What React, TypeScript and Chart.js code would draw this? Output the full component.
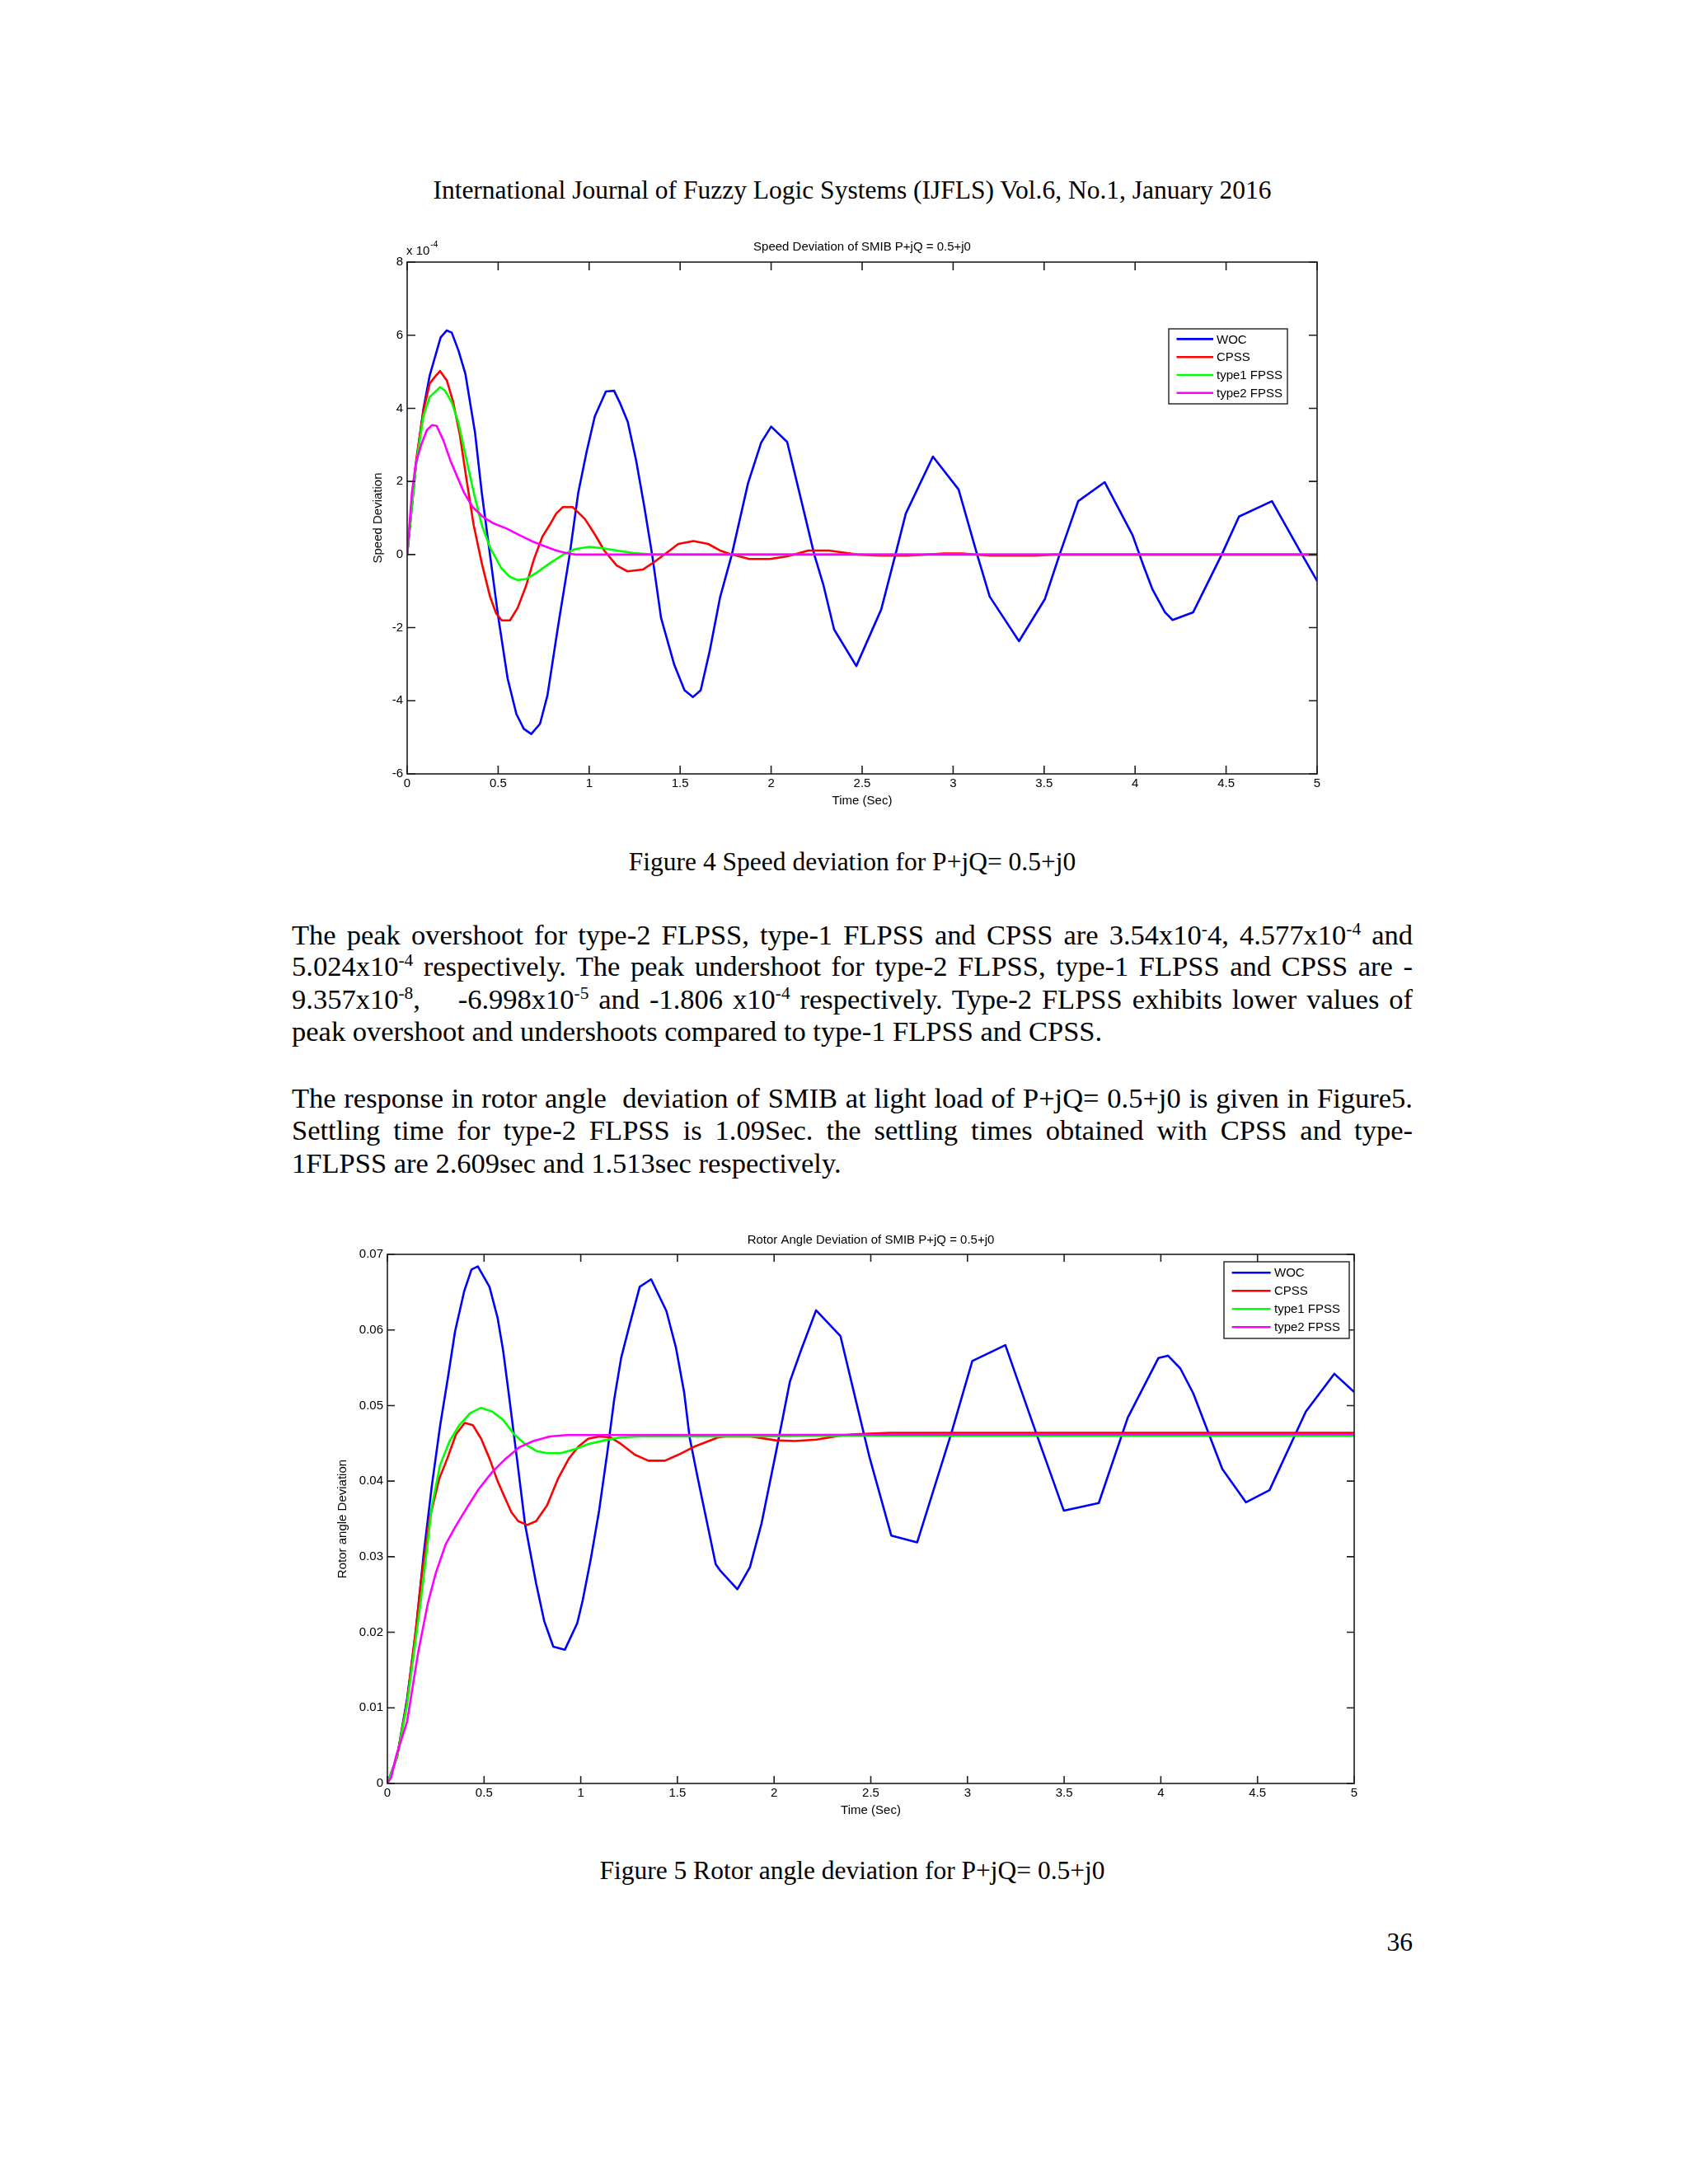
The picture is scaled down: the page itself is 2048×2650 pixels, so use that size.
import React, { useEffect, useRef } from 'react';
import { Chart, registerables } from 'chart.js';

Chart.register(...registerables);
Chart.defaults.font.family = '"Liberation Sans", Arial, Helvetica, sans-serif';
Chart.defaults.color = '#000';

// ---------- shared ----------
const seriesLabels = ['WOC', 'CPSS', 'type1 FPSS', 'type2 FPSS'];
const seriesColors = ['#0000ff', '#ff0000', '#00ff00', '#ff00ff'];

const timeTicks = [0, 0.5, 1, 1.5, 2, 2.5, 3, 3.5, 4, 4.5, 5];
const timeTickLabels = ['0', '0.5', '1', '1.5', '2', '2.5', '3', '3.5', '4', '4.5', '5'];

// ---------- Figure 4: speed deviation (units of 1e-4) ----------
const speedTicks = [-6, -4, -2, 0, 2, 4, 6, 8];
const speedTickLabels = ['-6', '-4', '-2', '0', '2', '4', '6', '8'];

const speedWocT = [0, 0.048, 0.09, 0.124, 0.184, 0.218, 0.245, 0.282, 0.32, 0.373, 0.41, 0.456, 0.5, 0.552, 0.6, 0.641, 0.682, 0.73, 0.771, 0.828, 0.893, 0.94, 0.986, 1.031, 1.092, 1.137, 1.168, 1.212, 1.258, 1.303, 1.346, 1.395, 1.468, 1.524, 1.57, 1.613, 1.662, 1.719, 1.784, 1.873, 1.945, 2.0, 2.088, 2.156, 2.237, 2.286, 2.346, 2.468, 2.605, 2.683, 2.74, 2.889, 3.03, 3.132, 3.201, 3.362, 3.504, 3.585, 3.687, 3.833, 3.986, 4.047, 4.096, 4.164, 4.206, 4.319, 4.476, 4.571, 4.752, 4.917, 5.0];
const speedWocY = [0, 2.43, 4.0, 4.9, 5.94, 6.13, 6.07, 5.58, 4.94, 3.33, 1.69, -0.04, -1.69, -3.39, -4.36, -4.77, -4.91, -4.63, -3.85, -2.0, 0, 1.69, 2.81, 3.78, 4.46, 4.48, 4.16, 3.63, 2.58, 1.31, 0, -1.73, -3.02, -3.71, -3.9, -3.71, -2.65, -1.18, 0, 1.95, 3.06, 3.5, 3.08, 1.68, 0, -0.81, -2.05, -3.05, -1.5, 0, 1.12, 2.68, 1.78, 0, -1.15, -2.37, -1.22, 0, 1.46, 1.98, 0.53, -0.32, -0.96, -1.58, -1.79, -1.58, 0, 1.04, 1.46, 0, -0.72];

const speedCpssT = [0, 0.05, 0.09, 0.124, 0.154, 0.181, 0.218, 0.252, 0.29, 0.328, 0.366, 0.411, 0.456, 0.489, 0.52, 0.565, 0.607, 0.653, 0.698, 0.743, 0.781, 0.819, 0.856, 0.909, 0.977, 1.03, 1.083, 1.151, 1.211, 1.295, 1.362, 1.453, 1.49, 1.573, 1.654, 1.719, 1.784, 1.88, 1.994, 2.09, 2.205, 2.318, 2.415, 2.477, 2.6, 2.75, 2.95, 3.05, 3.2, 3.45, 3.55, 5.0];
const speedCpssY = [0, 2.6, 3.95, 4.68, 4.87, 5.02, 4.76, 4.19, 3.26, 1.99, 0.79, -0.26, -1.16, -1.61, -1.8, -1.8, -1.46, -0.86, -0.11, 0.49, 0.79, 1.12, 1.3, 1.3, 0.97, 0.56, 0.11, -0.3, -0.46, -0.41, -0.19, 0.15, 0.29, 0.37, 0.29, 0.11, 0, -0.12, -0.12, -0.05, 0.11, 0.11, 0.04, 0, -0.03, -0.03, 0.03, 0.03, -0.03, -0.03, 0, 0];

const speedType1T = [0, 0.05, 0.09, 0.124, 0.181, 0.207, 0.245, 0.282, 0.32, 0.366, 0.411, 0.456, 0.517, 0.562, 0.607, 0.653, 0.713, 0.789, 0.864, 0.924, 1.0, 1.076, 1.166, 1.242, 1.302, 1.35, 5.0];
const speedType1Y = [0, 2.5, 3.8, 4.31, 4.58, 4.49, 4.16, 3.6, 2.73, 1.69, 0.79, 0.19, -0.37, -0.6, -0.7, -0.67, -0.49, -0.22, 0.02, 0.15, 0.21, 0.17, 0.1, 0.04, 0.02, 0, 0];

const speedType2T = [0, 0.026, 0.048, 0.079, 0.109, 0.136, 0.162, 0.2, 0.237, 0.275, 0.313, 0.358, 0.411, 0.471, 0.547, 0.622, 0.683, 0.743, 0.819, 0.872, 0.924, 5.0];
const speedType2Y = [0, 1.69, 2.51, 3.03, 3.41, 3.54, 3.52, 3.11, 2.58, 2.13, 1.69, 1.31, 1.05, 0.86, 0.71, 0.52, 0.37, 0.25, 0.11, 0.04, 0, 0];

// ---------- Figure 5: rotor angle deviation ----------
const rotorTicks = [0, 0.01, 0.02, 0.03, 0.04, 0.05, 0.06, 0.07];
const rotorTickLabels = ['0', '0.01', '0.02', '0.03', '0.04', '0.05', '0.06', '0.07'];

const rotorWocT = [0, 0.05, 0.102, 0.145, 0.187, 0.23, 0.272, 0.315, 0.35, 0.397, 0.435, 0.468, 0.528, 0.57, 0.599, 0.627, 0.67, 0.712, 0.769, 0.811, 0.858, 0.918, 0.982, 1.01, 1.052, 1.095, 1.138, 1.173, 1.209, 1.251, 1.305, 1.364, 1.443, 1.492, 1.535, 1.563, 1.606, 1.655, 1.698, 1.72, 1.81, 1.875, 1.935, 2.008, 2.082, 2.139, 2.217, 2.343, 2.416, 2.494, 2.606, 2.74, 2.916, 3.025, 3.196, 3.356, 3.498, 3.679, 3.829, 3.988, 4.037, 4.101, 4.168, 4.318, 4.44, 4.562, 4.75, 4.897, 5.0];
const rotorWocY = [0, 0.0035, 0.0112, 0.0196, 0.0302, 0.0394, 0.0472, 0.054, 0.0598, 0.0651, 0.068, 0.0684, 0.0657, 0.0616, 0.0572, 0.0517, 0.043, 0.0343, 0.0265, 0.0215, 0.0181, 0.0177, 0.0212, 0.0242, 0.0297, 0.0361, 0.0439, 0.0508, 0.0563, 0.0605, 0.0657, 0.0667, 0.0625, 0.0577, 0.0517, 0.0458, 0.0403, 0.0343, 0.029, 0.0282, 0.0257, 0.0286, 0.0344, 0.0436, 0.0532, 0.0573, 0.0626, 0.0592, 0.0514, 0.0431, 0.0328, 0.0319, 0.0463, 0.0559, 0.058, 0.0463, 0.0361, 0.0371, 0.0484, 0.0563, 0.0566, 0.0549, 0.0516, 0.0416, 0.0372, 0.0388, 0.0492, 0.0542, 0.0518];

const rotorCpssT = [0, 0.05, 0.102, 0.15, 0.173, 0.216, 0.268, 0.31, 0.355, 0.4, 0.442, 0.485, 0.528, 0.57, 0.613, 0.641, 0.677, 0.723, 0.769, 0.826, 0.882, 0.939, 0.989, 1.038, 1.095, 1.152, 1.209, 1.279, 1.35, 1.435, 1.506, 1.591, 1.662, 1.712, 1.748, 1.878, 2.008, 2.106, 2.22, 2.334, 2.416, 2.6, 5.0];
const rotorCpssY = [0, 0.0035, 0.0109, 0.021, 0.0265, 0.0348, 0.0403, 0.043, 0.0462, 0.0477, 0.0474, 0.0456, 0.043, 0.04, 0.0375, 0.0359, 0.0347, 0.0342, 0.0347, 0.0368, 0.0403, 0.043, 0.0446, 0.0456, 0.0459, 0.0458, 0.0449, 0.0435, 0.0427, 0.0427, 0.0435, 0.0446, 0.0453, 0.0458, 0.0459, 0.0459, 0.0454, 0.0453, 0.0455, 0.046, 0.0462, 0.0464, 0.0464];

const rotorType1T = [0, 0.05, 0.102, 0.173, 0.23, 0.272, 0.322, 0.372, 0.428, 0.485, 0.542, 0.599, 0.655, 0.712, 0.769, 0.826, 0.896, 0.967, 1.038, 1.123, 1.209, 1.308, 1.9, 2.2, 5.0];
const rotorType1Y = [0, 0.0035, 0.0105, 0.0242, 0.0366, 0.0421, 0.0453, 0.0474, 0.049, 0.0497, 0.0492, 0.0481, 0.0462, 0.0449, 0.044, 0.0437, 0.0437, 0.0442, 0.0449, 0.0454, 0.0458, 0.0459, 0.0459, 0.046, 0.046];

const rotorType2T = [0, 0.02, 0.045, 0.102, 0.159, 0.209, 0.251, 0.301, 0.35, 0.414, 0.471, 0.542, 0.613, 0.684, 0.755, 0.84, 0.925, 1.038, 5.0];
const rotorType2Y = [0, 0.0008, 0.0036, 0.0082, 0.0173, 0.0238, 0.0279, 0.0316, 0.0339, 0.0366, 0.0389, 0.0412, 0.043, 0.0445, 0.0453, 0.0459, 0.0461, 0.0461, 0.0462];

// ---------- chart plumbing ----------
const zip = (t: number[], v: number[]) => t.map((x, i) => ({ x, y: v[i] }));

interface LegendSpec { rightOff: number; topOff: number; w: number; h: number; lineX0: number; lineX1: number; textX: number; row0: number; rowStep: number; }
interface FigSpec {
  left: number; top: number; width: number; height: number;
  padTop: number; padRight: number; yWidth: number; xHeight: number;
  yMin: number; yMax: number; yTicks: number[]; yTickLabels: string[];
  series: [number[], number[]][];
  title: string; titleGap: number; yTitle: string; yTitlePad: number; xTitlePad: number;
  exponent?: string; tickLen: number; legend: LegendSpec;
}

function framePlugin(spec: FigSpec) {
  return {
    id: 'matlabFrame',
    afterDatasetsDraw(chart: any) {
      const { ctx, chartArea: a } = chart;
      const xs = chart.scales.x;
      const ys = chart.scales.y;
      ctx.save();
      // axes box
      ctx.strokeStyle = '#1e1e1e';
      ctx.lineWidth = 1.6;
      ctx.strokeRect(a.left, a.top, a.right - a.left, a.bottom - a.top);
      // inward ticks on all four sides
      const L = spec.tickLen;
      ctx.beginPath();
      for (const v of timeTicks) {
        const px = xs.getPixelForValue(v);
        ctx.moveTo(px, a.bottom); ctx.lineTo(px, a.bottom - L);
        ctx.moveTo(px, a.top); ctx.lineTo(px, a.top + L);
      }
      for (const v of spec.yTicks) {
        const py = ys.getPixelForValue(v);
        ctx.moveTo(a.left, py); ctx.lineTo(a.left + L, py);
        ctx.moveTo(a.right, py); ctx.lineTo(a.right - L, py);
      }
      ctx.stroke();
      // title
      ctx.fillStyle = '#000';
      ctx.font = '15px "Liberation Sans", Arial, sans-serif';
      ctx.textAlign = 'center';
      ctx.textBaseline = 'middle';
      ctx.fillText(spec.title, (a.left + a.right) / 2, a.top - spec.titleGap);
      // exponent
      if (spec.exponent) {
        ctx.textAlign = 'left';
        const base = 'x 10';
        const x0 = a.left - 1;
        ctx.fillText(base, x0, a.top - 13);
        const w = ctx.measureText(base).width;
        ctx.font = '10px "Liberation Sans", Arial, sans-serif';
        ctx.fillText(spec.exponent, x0 + w + 1, a.top - 21);
      }
      // legend
      const lg = spec.legend;
      const bx = a.right - lg.rightOff - lg.w;
      const by = a.top + lg.topOff;
      ctx.fillStyle = '#fff';
      ctx.fillRect(bx, by, lg.w, lg.h);
      ctx.strokeStyle = '#1e1e1e';
      ctx.lineWidth = 1.4;
      ctx.strokeRect(bx, by, lg.w, lg.h);
      ctx.font = '15px "Liberation Sans", Arial, sans-serif';
      ctx.textAlign = 'left';
      ctx.textBaseline = 'middle';
      chart.data.datasets.forEach((ds: any, i: number) => {
        const ry = by + lg.row0 + i * lg.rowStep;
        ctx.strokeStyle = ds.borderColor;
        ctx.lineWidth = 2.6;
        ctx.beginPath();
        ctx.moveTo(bx + lg.lineX0, ry);
        ctx.lineTo(bx + lg.lineX1, ry);
        ctx.stroke();
        ctx.fillStyle = '#000';
        ctx.fillText(ds.label, bx + lg.textX, ry + 1);
      });
      ctx.restore();
    },
  };
}

function buildConfig(spec: FigSpec): any {
  const font = { family: '"Liberation Sans", Arial, sans-serif', size: 15 };
  return {
    type: 'line',
    data: {
      datasets: spec.series.map(([t, v], i) => ({
        label: seriesLabels[i],
        data: zip(t, v),
        borderColor: seriesColors[i],
        backgroundColor: seriesColors[i],
        borderWidth: 2.6,
        pointRadius: 0,
        pointHoverRadius: 0,
        tension: 0,
        fill: false,
        borderJoinStyle: 'round',
        borderCapStyle: 'round',
        order: 4 - i,
      })),
    },
    options: {
      animation: false,
      responsive: false,
      maintainAspectRatio: false,
      events: [],
      layout: { padding: { left: 0, top: spec.padTop, right: spec.padRight, bottom: 0 } },
      plugins: { legend: { display: false }, tooltip: { enabled: false }, title: { display: false } },
      scales: {
        x: {
          type: 'linear',
          min: 0,
          max: 5,
          afterBuildTicks: (s: any) => { s.ticks = timeTicks.map((v) => ({ value: v })); },
          afterFit: (s: any) => { s.height = spec.xHeight; },
          grid: { display: false, drawTicks: false },
          border: { display: false },
          ticks: {
            padding: 3, color: '#000', font, autoSkip: false, maxRotation: 0,
            callback: (v: number) => timeTickLabels[timeTicks.indexOf(v)] ?? String(v),
          },
          title: { display: true, text: 'Time (Sec)', color: '#000', font, padding: { top: 0, bottom: spec.xTitlePad } },
        },
        y: {
          type: 'linear',
          min: spec.yMin,
          max: spec.yMax,
          afterBuildTicks: (s: any) => { s.ticks = spec.yTicks.map((v) => ({ value: v })); },
          afterFit: (s: any) => { s.width = spec.yWidth; },
          grid: { display: false, drawTicks: false },
          border: { display: false },
          ticks: {
            padding: 5, color: '#000', font, autoSkip: false,
            callback: (v: number) => {
              const idx = spec.yTicks.findIndex((t) => Math.abs(t - v) < 1e-9);
              return idx >= 0 ? spec.yTickLabels[idx] : String(v);
            },
          },
          title: { display: true, text: spec.yTitle, color: '#000', font, padding: { top: spec.yTitlePad, bottom: 0 } },
        },
      },
    },
    plugins: [framePlugin(spec)],
  };
}

const speedSpec: FigSpec = {
  left: 380, top: 270, width: 1260, height: 730,
  padTop: 48, padRight: 42, yWidth: 114, xHeight: 61,
  yMin: -6, yMax: 8, yTicks: speedTicks, yTickLabels: speedTickLabels,
  series: [[speedWocT, speedWocY], [speedCpssT, speedCpssY], [speedType1T, speedType1Y], [speedType2T, speedType2Y]],
  title: 'Speed Deviation of SMIB P+jQ = 0.5+j0', titleGap: 18,
  yTitle: 'Speed Deviation', yTitlePad: 70, xTitlePad: 19,
  exponent: '-4', tickLen: 10,
  legend: { rightOff: 36, topOff: 81, w: 144, h: 91, lineX0: 9.5, lineX1: 54, textX: 58, row0: 12.4, rowStep: 21.8 },
};

const rotorSpec: FigSpec = {
  left: 360, top: 1470, width: 1320, height: 750,
  padTop: 52, padRight: 37, yWidth: 110, xHeight: 56,
  yMin: 0, yMax: 0.07, yTicks: rotorTicks, yTickLabels: rotorTickLabels,
  series: [[rotorWocT, rotorWocY], [rotorCpssT, rotorCpssY], [rotorType1T, rotorType1Y], [rotorType2T, rotorType2Y]],
  title: 'Rotor Angle Deviation of SMIB P+jQ = 0.5+j0', titleGap: 17,
  yTitle: 'Rotor angle Deviation', yTitlePad: 47, xTitlePad: 14,
  tickLen: 9,
  legend: { rightOff: 6, topOff: 9, w: 152, h: 93, lineX0: 9.6, lineX1: 56.7, textX: 61, row0: 13.2, rowStep: 22 },
};

function ChartCanvas({ spec }: { spec: FigSpec }) {
  const ref = useRef<HTMLCanvasElement>(null);
  useEffect(() => {
    if (!ref.current) return;
    const chart = new Chart(ref.current, buildConfig(spec));
    return () => chart.destroy();
  }, [spec]);
  return (
    <div style={{ position: 'absolute', left: spec.left, top: spec.top, width: spec.width, height: spec.height }}>
      <canvas ref={ref} width={spec.width} height={spec.height} style={{ width: spec.width, height: spec.height, display: 'block' }} />
    </div>
  );
}

// ---------- page text ----------
const supStyle: React.CSSProperties = { fontSize: '0.62em', verticalAlign: 'super', lineHeight: 0 };
const Sup = ({ children }: { children: React.ReactNode }) => <span style={supStyle}>{children}</span>;

function BodyLine({ center, justify, children }: { center: number; justify: boolean; children: React.ReactNode }) {
  return (
    <div
      style={{
        position: 'absolute', left: 354, width: 1360, top: center - 20, height: 40,
        fontSize: 34.5, lineHeight: '40px', textAlign: 'justify',
        textAlignLast: justify ? 'justify' : 'left', whiteSpace: 'normal',
      } as React.CSSProperties}
    >
      {children}
    </div>
  );
}

function CenterLine({ center, children }: { center: number; children: React.ReactNode }) {
  return (
    <div style={{ position: 'absolute', left: 334, width: 1400, top: center - 20, height: 40, fontSize: 31.5, lineHeight: '40px', textAlign: 'center', whiteSpace: 'nowrap' }}>
      {children}
    </div>
  );
}

export default function App() {
  return (
    <div
      style={{
        position: 'absolute', left: 0, top: 0, width: 2048, height: 2650, overflow: 'hidden',
        background: '#fff', color: '#000', fontFamily: '"Liberation Serif", "Times New Roman", serif',
      }}
    >
      <CenterLine center={231}>International Journal of Fuzzy Logic Systems (IJFLS) Vol.6, No.1, January 2016</CenterLine>

      <ChartCanvas spec={speedSpec} />

      <CenterLine center={1046}>Figure 4 Speed deviation for P+jQ= 0.5+j0</CenterLine>

      <BodyLine center={1134} justify>
        The peak overshoot for type-2 FLPSS, type-1 FLPSS and CPSS are 3.54x10<Sup>-</Sup>4, 4.577x10<Sup>-4</Sup> and
      </BodyLine>
      <BodyLine center={1172} justify>
        5.024x10<Sup>-4</Sup> respectively. The peak undershoot for type-2 FLPSS, type-1 FLPSS and CPSS are -
      </BodyLine>
      <BodyLine center={1212} justify>
        9.357x10<Sup>-8</Sup>,<span style={{ display: 'inline-block', width: 34 }} /> -6.998x10<Sup>-5</Sup> and -1.806 x10<Sup>-4</Sup> respectively. Type-2 FLPSS exhibits lower values of
      </BodyLine>
      <BodyLine center={1251} justify={false}>
        peak overshoot and undershoots compared to type-1 FLPSS and CPSS.
      </BodyLine>

      <BodyLine center={1332} justify>
        The response in rotor angle&nbsp; deviation of SMIB at light load of P+jQ= 0.5+j0 is given in Figure5.
      </BodyLine>
      <BodyLine center={1371} justify>
        Settling time for type-2 FLPSS is 1.09Sec. the settling times obtained with CPSS and type-
      </BodyLine>
      <BodyLine center={1411} justify={false}>
        1FLPSS are 2.609sec and 1.513sec respectively.
      </BodyLine>

      <ChartCanvas spec={rotorSpec} />

      <CenterLine center={2270}>Figure 5 Rotor angle deviation for P+jQ= 0.5+j0</CenterLine>

      <div style={{ position: 'absolute', left: 1514, width: 200, top: 2357 - 20, height: 40, fontSize: 31.5, lineHeight: '40px', textAlign: 'right' }}>36</div>
    </div>
  );
}
